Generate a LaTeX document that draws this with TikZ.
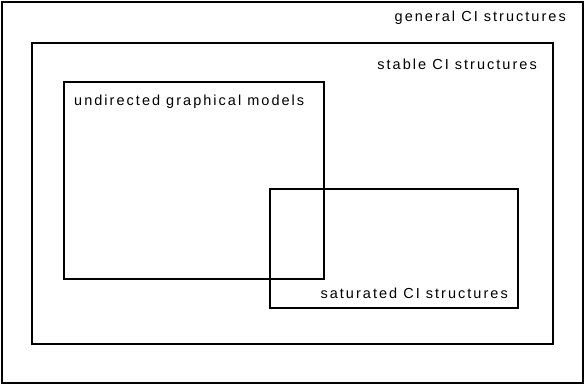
\documentclass[tikz,border=0pt]{standalone}
\usepackage{fontspec}
\setmainfont{Liberation Sans}[LetterSpace=14]
\begin{document}
\begin{tikzpicture}[x=1pt,y=-1pt,
  box/.style={draw=black,line width=2.5pt},
  lbl/.style={inner sep=0pt,font=\fontsize{14.5}{16}\selectfont}]
\useasboundingbox (0,0) rectangle (584,388);
\draw[box] (2,2) rectangle (583,383);
\draw[box] (32,43) rectangle (553,344);
\draw[box] (64,82) rectangle (324,279);
\draw[box] (270,189) rectangle (518,308);
\node[lbl,anchor=east] (g) at (566,18) {general CI structures};
\node[lbl,anchor=east] (s) at (537,64) {stable CI structures};
\node[lbl,anchor=west] (u) at (74,102) {undirected graphical models};
\node[lbl,anchor=east] (t) at (508,293) {saturated CI structures};
\end{tikzpicture}
\end{document}
